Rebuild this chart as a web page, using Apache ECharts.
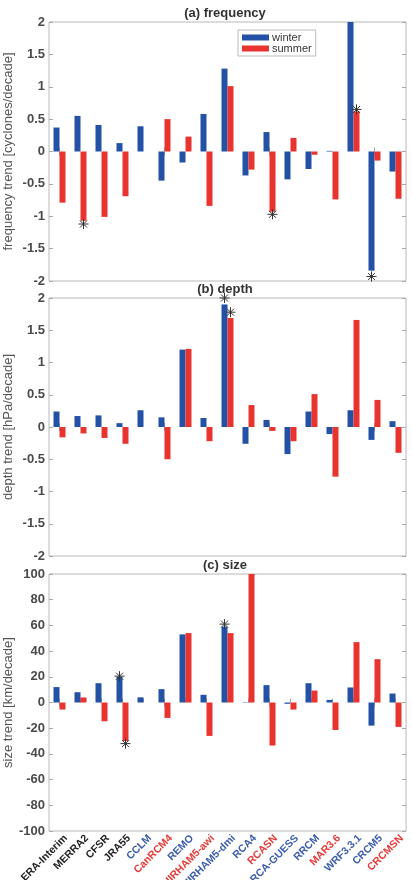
<!DOCTYPE html>
<html>
<head>
<meta charset="utf-8">
<script src="https://cdn.jsdelivr.net/npm/echarts@6/dist/echarts.min.js"></script>
<style>
html,body{margin:0;padding:0;background:#fff;}
#chart{width:412px;height:880px;}
</style>
</head>
<body>
<div id="chart"></div>
<script>
// ---- data ----
var categories = ['ERA-Interim','MERRA2','CFSR','JRA55','CCLM','CanRCM4','REMO','HIRHAM5-awi','HIRHAM5-dmi','RCA4','RCASN','RCA-GUESS','RRCM','MAR3.6','WRF3.3.1','CRCM5','CRCMSN'];
var categoryGroup = ['obs','obs','obs','obs','b','r','b','r','b','b','r','b','b','r','b','b','r'];

var freqWinter = [0.37,0.55,0.41,0.13,0.39,-0.45,-0.17,0.58,1.28,-0.37,0.30,-0.43,-0.27,0.01,2.0,-1.84,-0.31];
var freqSummer = [-0.79,-1.07,-1.01,-0.69,0,0.50,0.23,-0.84,1.01,-0.28,-0.93,0.21,-0.05,-0.74,0.62,-0.14,-0.73];
var depthWinter = [0.24,0.17,0.18,0.06,0.26,0.15,1.20,0.14,1.90,-0.26,0.11,-0.42,0.24,-0.11,0.26,-0.20,0.09];
var depthSummer = [-0.16,-0.10,-0.17,-0.26,0,-0.50,1.21,-0.22,1.69,0.34,-0.06,-0.22,0.51,-0.77,1.66,0.42,-0.40];
var sizeWinter = [12,8,15,20,4,10.4,53,6,59,0.3,13.5,-1,15,2,11.7,-18,7];
var sizeSummer = [-5.5,3.9,-14.6,-30,0,-12,54,-26,54,100,-33.5,-5.5,9.3,-21.4,47,33.7,-19];

// significance markers: [category, value]
var freqStarsWinter = [['CRCM5',-1.93]];
var freqStarsSummer = [['MERRA2',-1.12],['RCASN',-0.97],['WRF3.3.1',0.65]];
var depthStarsWinter = [['HIRHAM5-dmi',2.0]];
var depthStarsSummer = [['HIRHAM5-dmi',1.78]];
var sizeStarsWinter = [['JRA55',20.5],['HIRHAM5-dmi',61]];
var sizeStarsSummer = [['JRA55',-32]];

var freqTicks = {min:-2, max:2, interval:0.5};
var depthTicks = {min:-2, max:2, interval:0.5};
var sizeTicks = {min:-100, max:100, interval:20};

var titles = ['(a) frequency','(b) depth','(c) size'];
var yNames = ['frequency trend [cyclones/decade]','depth trend [hPa/decade]','size trend [km/decade]'];
var seriesNames = ['winter','summer'];

// ---- styling ----
var BLUE = '#2351a6', RED = '#e8332f';
var LBLUE = '#3a5cae', LRED = '#e63a37';
var FONT = 'Liberation Sans, Arial, Helvetica, sans-serif';
var gridTops = [22, 298, 574];
var gridHeights = [259, 258, 257];
var GL = 49, GW = 357;
var starPath = 'path://M0,5L10,5M5,0L5,10M1.5,1.5L8.5,8.5M8.5,1.5L1.5,8.5';

var panels = [
  {w:freqWinter, s:freqSummer, sw:freqStarsWinter, ss:freqStarsSummer, t:freqTicks},
  {w:depthWinter, s:depthSummer, sw:depthStarsWinter, ss:depthStarsSummer, t:depthTicks},
  {w:sizeWinter, s:sizeSummer, sw:sizeStarsWinter, ss:sizeStarsSummer, t:sizeTicks}
];

var grid = [], xAxis = [], yAxis = [], series = [], graphic = [];
var tickStyle = {show:true, inside:true, length:4, lineStyle:{color:'#a8a8a8', width:1}};

function stars(list){
  return {
    symbol: starPath, symbolSize: 10, symbolKeepAspect: true,
    itemStyle: {color:'rgba(0,0,0,0)', borderColor:'#333', borderWidth:1},
    label: {show:false},
    data: list.map(function(p){ return {coord:[p[0], p[1]]}; })
  };
}

panels.forEach(function(p, i){
  grid.push({left:GL, width:GW, top:gridTops[i], height:gridHeights[i], show:true, borderColor:'#b8b8b8', borderWidth:1, backgroundColor:'#fff', containLabel:false, outerBoundsMode:'none'});
  var isLast = i === 2;
  xAxis.push({
    type:'category', gridIndex:i, data:categories, position:'bottom', boundaryGap:true,
    axisLine:{show:false}, axisTick:Object.assign({alignWithLabel:true}, tickStyle),
    axisLabel: isLast ? {
      show:true, rotate:45, interval:0, margin:12, fontFamily:FONT, fontWeight:'bold', fontSize:10.5,
      padding:[0,-9,0,0],
      color: function(v, idx){ var g = categoryGroup[categories.indexOf(v)]; return g==='obs' ? '#222' : (g==='b' ? LBLUE : LRED); }
    } : {show:false},
    splitLine:{show:false}
  });
  xAxis.push({
    type:'category', gridIndex:i, data:categories, position:'top', boundaryGap:true,
    axisLine:{show:false}, axisTick:Object.assign({alignWithLabel:true}, tickStyle),
    axisLabel:{show:false}, splitLine:{show:false}
  });
  yAxis.push({
    type:'value', gridIndex:i, position:'left', min:p.t.min, max:p.t.max, interval:p.t.interval,
    axisLine:{show:false}, axisTick:tickStyle, splitLine:{show:false},
    axisLabel:{fontFamily:FONT, fontWeight:'bold', fontSize:13, color:'#4a4a4a', margin:4},
    name:yNames[i], nameLocation:'middle', nameGap:34, nameRotate:90, nameMoveOverlap:false,
    nameTextStyle:{fontFamily:FONT, fontSize:13, color:'#555'}
  });
  yAxis.push({
    type:'value', gridIndex:i, position:'right', min:p.t.min, max:p.t.max, interval:p.t.interval,
    axisLine:{show:false}, axisTick:tickStyle, splitLine:{show:false}, axisLabel:{show:false}
  });
  series.push({
    name:seriesNames[0], type:'bar', xAxisIndex:2*i, yAxisIndex:2*i, data:p.w,
    barWidth:6, barGap:'0%', itemStyle:{color:BLUE}, clip:true,
    markPoint: stars(p.sw), z:3
  });
  series.push({
    name:seriesNames[1], type:'bar', xAxisIndex:2*i, yAxisIndex:2*i, data:p.s,
    barWidth:6, barGap:'0%', itemStyle:{color:RED}, clip:true,
    markPoint: stars(p.ss), z:3
  });
  graphic.push({
    type:'text', x:225, y:gridTops[i]-9, z:10,
    style:{text:titles[i], fontFamily:FONT, fontWeight:'bold', fontSize:13, fill:'#333', align:'center', verticalAlign:'middle'}
  });
});

var chart = echarts.init(document.getElementById('chart'), null, {renderer:'canvas'});
chart.setOption({
  animation:false,
  backgroundColor:'#fff',
  grid:grid, xAxis:xAxis, yAxis:yAxis, series:series, graphic:graphic,
  legend:{
    data:seriesNames, left:238, top:30, orient:'vertical',
    itemWidth:27, itemHeight:6, itemGap:0,
    icon:'rect',
    padding:[2,4,2,4], borderColor:'#bbb', borderWidth:1, backgroundColor:'#fff',
    textStyle:{fontFamily:FONT, fontSize:11, color:'#333', lineHeight:10, padding:[0,0,0,-2]}
  }
});
</script>
</body>
</html>
